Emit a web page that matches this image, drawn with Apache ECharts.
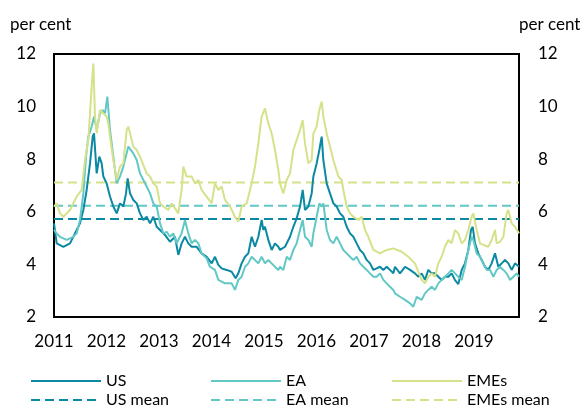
<!DOCTYPE html>
<html><head><meta charset="utf-8">
<script src="https://cdn.jsdelivr.net/npm/echarts@6/dist/echarts.min.js"></script>
<style>html,body{margin:0;padding:0;background:#fff}#c{width:585px;height:408px}</style>
</head><body><div id="c"></div>
<script>
// time in decimal years, value in per cent
const xMin = 2011, xMax = 2019.857;
const yTicks = [2, 4, 6, 8, 10, 12];
const yearLabels = [2011, 2012, 2013, 2014, 2015, 2016, 2017, 2018, 2019];

const usData = [
[2011.0,5.56],[2011.051,4.8],[2011.178,4.67],[2011.305,4.8],[2011.432,5.31],[2011.495,5.56],[2011.559,6.07],[2011.622,6.83],[2011.686,7.84],[2011.737,8.86],[2011.762,8.98],[2011.813,7.46],[2011.864,8.1],[2011.908,7.84],[2011.94,7.34],[2012.003,7.08],[2012.067,6.58],[2012.13,6.2],[2012.194,5.94],[2012.257,6.32],[2012.321,6.2],[2012.372,6.7],[2012.403,7.27],[2012.448,6.7],[2012.511,6.45],[2012.575,6.32],[2012.638,5.94],[2012.702,5.69],[2012.765,5.81],[2012.829,5.56],[2012.892,5.81],[2012.956,5.43],[2013.019,5.31],[2013.114,5.12],
[2013.209,4.86],[2013.304,5.05],[2013.368,4.36],[2013.431,4.8],[2013.495,5.05],[2013.558,4.8],[2013.622,4.67],[2013.717,4.67],[2013.812,4.42],[2013.908,4.29],[2014.003,4.04],[2014.066,4.29],[2014.13,3.98],[2014.193,3.85],[2014.289,3.79],[2014.384,3.72],[2014.46,3.47],[2014.511,3.66],[2014.574,4.04],[2014.638,4.29],[2014.701,4.42],[2014.765,5.05],[2014.828,4.67],[2014.892,5.05],[2014.955,5.69],[2014.987,5.31],[2015.019,5.43],[2015.082,4.93],[2015.146,4.55],[2015.209,4.8],[2015.273,4.67],
[2015.305,4.55],[2015.4,4.67],[2015.495,5.05],[2015.559,5.43],[2015.622,5.75],[2015.686,6.2],[2015.737,6.83],[2015.781,6.07],[2015.845,6.2],[2015.908,6.7],[2015.94,7.34],[2016.003,7.84],[2016.054,8.35],[2016.099,8.86],[2016.13,7.97],[2016.194,7.08],[2016.257,6.7],[2016.321,6.32],[2016.384,6.2],[2016.448,5.94],[2016.511,5.81],[2016.575,5.43],[2016.638,5.18],[2016.702,5.05],[2016.765,4.8],[2016.829,4.55],[2016.892,4.42],[2016.956,4.17],[2017.019,4.04],[2017.083,3.79],[2017.146,3.85],[2017.21,3.91],[2017.273,3.79],[2017.337,3.91],[2017.4,3.79],[2017.464,3.66],
[2017.495,3.91],[2017.59,3.66],[2017.686,3.91],[2017.781,3.79],[2017.876,3.66],[2017.94,3.53],[2018.003,3.66],[2018.066,3.41],[2018.13,3.79],[2018.193,3.66],[2018.257,3.66],[2018.32,3.53],[2018.384,3.41],[2018.447,3.53],[2018.511,3.53],[2018.574,3.66],[2018.638,3.4],[2018.701,3.25],[2018.765,3.79],[2018.828,4.04],[2018.892,4.55],[2018.943,5.31],[2018.975,5.43],[2019.019,4.8],[2019.082,4.42],[2019.146,4.17],[2019.209,3.91],[2019.273,3.79],[2019.336,4.04],[2019.4,4.42],[2019.463,3.91],[2019.527,4.04],[2019.59,4.17],[2019.654,4.04],[2019.717,3.79],[2019.781,4.04],[2019.857,3.91]
];

const eaData = [
[2011.0,5.31],[2011.051,5.18],[2011.114,5.05],[2011.241,4.93],[2011.368,5.05],[2011.432,5.18],[2011.495,5.69],[2011.559,6.7],[2011.61,8.1],[2011.654,8.86],[2011.718,9.24],[2011.762,9.62],[2011.813,9.11],[2011.876,9.74],[2011.927,9.87],[2011.972,9.74],[2012.016,10.38],[2012.067,9.11],[2012.13,8.1],[2012.194,7.08],[2012.257,7.34],[2012.321,7.72],[2012.416,8.48],[2012.511,8.22],[2012.575,7.97],[2012.638,7.46],[2012.702,7.21],[2012.765,6.96],[2012.829,6.7],[2012.892,6.32],[2012.956,6.2],[2013.019,5.56],[2013.083,5.18],[2013.146,5.24],
[2013.209,5.05],[2013.273,5.18],[2013.336,4.8],[2013.431,5.18],[2013.495,5.69],[2013.558,5.18],[2013.622,4.8],[2013.685,4.93],[2013.749,4.8],[2013.812,4.42],[2013.908,4.23],[2013.971,3.91],[2014.066,3.79],[2014.13,3.41],[2014.257,3.28],[2014.384,3.28],[2014.447,3.03],[2014.511,3.41],[2014.574,3.53],[2014.638,3.91],[2014.701,4.04],[2014.765,4.29],[2014.828,4.17],[2014.892,4.04],[2014.955,4.29],[2015.019,4.04],[2015.082,4.17],[2015.146,4.04],[2015.209,3.91],[2015.273,3.79],
[2015.305,3.91],[2015.368,3.79],[2015.432,4.29],[2015.495,4.17],[2015.559,4.55],[2015.622,4.8],[2015.686,5.31],[2015.737,5.69],[2015.781,5.05],[2015.845,4.93],[2015.908,4.67],[2015.94,5.18],[2016.003,5.81],[2016.054,6.32],[2016.099,6.2],[2016.13,6.32],[2016.194,5.31],[2016.257,4.93],[2016.321,4.8],[2016.384,5.05],[2016.448,4.8],[2016.511,4.55],[2016.575,4.42],[2016.638,4.29],[2016.702,4.17],[2016.765,4.29],[2016.829,4.04],[2016.892,3.91],[2016.956,3.79],[2017.019,3.66],[2017.083,3.53],[2017.146,3.53],[2017.21,3.66],[2017.273,3.41],[2017.337,3.28],[2017.4,3.15],[2017.464,3.03],
[2017.495,2.9],[2017.59,2.77],[2017.686,2.65],[2017.781,2.52],[2017.844,2.39],[2017.908,2.77],[2018.003,2.65],[2018.066,2.9],[2018.13,3.03],[2018.193,3.15],[2018.257,3.03],[2018.32,3.28],[2018.384,3.41],[2018.447,3.53],[2018.511,3.66],[2018.574,3.79],[2018.638,3.66],[2018.701,3.53],[2018.765,3.41],[2018.828,3.91],[2018.892,4.55],[2018.955,5.05],[2018.987,4.93],[2019.051,4.42],[2019.114,4.29],[2019.178,4.04],[2019.241,3.79],[2019.305,3.79],[2019.368,3.53],[2019.432,3.79],[2019.495,3.91],[2019.559,3.79],[2019.622,3.66],[2019.686,3.41],[2019.749,3.53],[2019.813,3.66],[2019.857,3.53]
];

const emeData = [
[2011.0,6.2],[2011.051,6.32],[2011.114,5.94],[2011.178,5.81],[2011.305,6.07],[2011.432,6.58],[2011.527,6.83],[2011.59,7.97],[2011.654,8.73],[2011.718,10.76],[2011.749,11.64],[2011.781,9.62],[2011.813,8.98],[2011.876,9.87],[2011.94,9.74],[2012.003,9.62],[2012.035,9.36],[2012.067,8.86],[2012.13,7.97],[2012.194,7.21],[2012.257,7.72],[2012.321,7.84],[2012.384,9.11],[2012.416,9.24],[2012.511,8.48],[2012.575,8.35],[2012.638,8.1],[2012.765,7.46],[2012.829,7.34],[2012.892,7.08],[2012.956,6.96],[2013.019,6.32],[2013.083,6.2],[2013.178,6.07],
[2013.241,6.32],[2013.368,5.94],[2013.431,6.83],[2013.463,7.72],[2013.527,7.34],[2013.622,7.34],[2013.685,7.08],[2013.749,7.21],[2013.812,6.83],[2013.908,6.58],[2014.003,6.32],[2014.066,7.08],[2014.13,6.83],[2014.193,6.96],[2014.257,6.45],[2014.352,6.2],[2014.447,5.81],[2014.511,5.63],[2014.574,6.2],[2014.67,6.32],[2014.765,7.08],[2014.828,7.72],[2014.892,8.6],[2014.955,9.62],[2015.019,9.93],[2015.082,9.36],[2015.146,8.98],[2015.209,8.35],[2015.273,7.59],
[2015.305,7.08],[2015.368,6.7],[2015.432,7.21],[2015.495,7.46],[2015.559,8.35],[2015.622,8.73],[2015.686,9.11],[2015.737,9.49],[2015.781,8.6],[2015.845,7.84],[2015.908,7.97],[2015.94,8.98],[2016.003,9.24],[2016.054,9.87],[2016.099,10.19],[2016.13,9.62],[2016.194,8.98],[2016.257,8.48],[2016.321,7.97],[2016.416,7.34],[2016.48,7.21],[2016.511,6.83],[2016.575,6.2],[2016.638,5.94],[2016.702,5.81],[2016.797,5.69],[2016.86,5.81],[2016.924,5.31],[2016.987,5.05],[2017.083,4.55],[2017.21,4.42],[2017.337,4.55],[2017.464,4.61],
[2017.495,4.61],[2017.622,4.48],[2017.749,4.29],[2017.876,4.04],[2018.003,3.41],[2018.066,3.28],[2018.13,3.53],[2018.193,3.66],[2018.257,3.53],[2018.32,4.04],[2018.384,4.29],[2018.447,4.67],[2018.511,4.93],[2018.574,4.8],[2018.638,5.31],[2018.701,5.18],[2018.765,4.8],[2018.828,4.93],[2018.892,5.31],[2018.955,5.81],[2018.987,5.94],[2019.051,5.31],[2019.114,4.8],[2019.178,4.74],[2019.273,4.67],[2019.336,4.93],[2019.4,5.31],[2019.432,4.8],[2019.495,4.86],[2019.559,5.05],[2019.622,5.94],[2019.654,6.07],[2019.717,5.56],[2019.781,5.43],[2019.857,5.18]
];

const usMean = 5.73, eaMean = 6.23, emeMean = 7.11;

const cUS = '#0b88a2', cEA = '#62c8c5', cEME = '#d6e189';
const font = 'Lato, "Open Sans", sans-serif';

function meanLine(m) { return [[xMin, m], [xMax, m]]; }
function solid(name, data, color) {
  return { name, type: 'line', data, symbol: 'none', showSymbol: false,
    lineStyle: { color, width: 2 }, itemStyle: { color }, animation: false, z: 3 };
}
function dashed(name, m, color) {
  return { name, type: 'line', data: meanLine(m), symbol: 'none', showSymbol: false,
    lineStyle: { color, width: 2, type: [9, 5] }, itemStyle: { color }, animation: false, z: 2 };
}
function legendItem(left, top, name) {
  return { left, top, orient: 'horizontal', padding: 0, itemWidth: 70, itemHeight: 14, itemGap: 0,
    itemStyle: { opacity: 0, borderWidth: 0, color: 'transparent', borderColor: 'transparent' },
    data: [name], textStyle: { fontFamily: font, fontSize: 16, color: '#000' } };
}

const chart = echarts.init(document.getElementById('c'), null, { renderer: 'canvas' });
chart.setOption({
  animation: false,
  grid: { left: 54, right: 66, top: 54, bottom: 91, show: true, borderColor: '#000', borderWidth: 2, backgroundColor: 'transparent' },
  graphic: [
    { type: 'text', left: 10, top: 16, style: { text: 'per cent', font: '17px ' + font, fill: '#000' } },
    { type: 'text', left: 519, top: 16, style: { text: 'per cent', font: '17px ' + font, fill: '#000' } }
  ],
  xAxis: {
    type: 'value', min: xMin, max: xMax, interval: 1,
    axisLine: { show: false }, axisTick: { show: false }, splitLine: { show: false },
    axisLabel: { fontFamily: font, fontSize: 17, color: '#000', margin: 16, showMaxLabel: false,
      formatter: v => { const r = Math.round(v); return (Math.abs(v - r) < 1e-6 && yearLabels.includes(r)) ? String(r) : ''; } }
  },
  yAxis: [
    { type: 'value', min: yTicks[0], max: yTicks[yTicks.length - 1], interval: 2, position: 'left',
      axisLine: { show: false }, axisTick: { show: false }, splitLine: { show: false },
      axisLabel: { fontFamily: font, fontSize: 17, color: '#000', margin: 18 } },
    { type: 'value', min: yTicks[0], max: yTicks[yTicks.length - 1], interval: 2, position: 'right',
      axisLine: { show: false }, axisTick: { show: false }, splitLine: { show: false },
      axisLabel: { fontFamily: font, fontSize: 17, color: '#000', margin: 19 } }
  ],
  legend: [
    legendItem(30, 373, 'US'), legendItem(30, 392, 'US mean'),
    legendItem(210, 373, 'EA'), legendItem(210, 392, 'EA mean'),
    legendItem(391, 373, 'EMEs'), legendItem(391, 392, 'EMEs mean')
  ],
  series: [
    dashed('US mean', usMean, cUS),
    dashed('EA mean', eaMean, cEA),
    dashed('EMEs mean', emeMean, cEME),
    solid('US', usData, cUS),
    solid('EA', eaData, cEA),
    solid('EMEs', emeData, cEME)
  ]
});
</script></body></html>
